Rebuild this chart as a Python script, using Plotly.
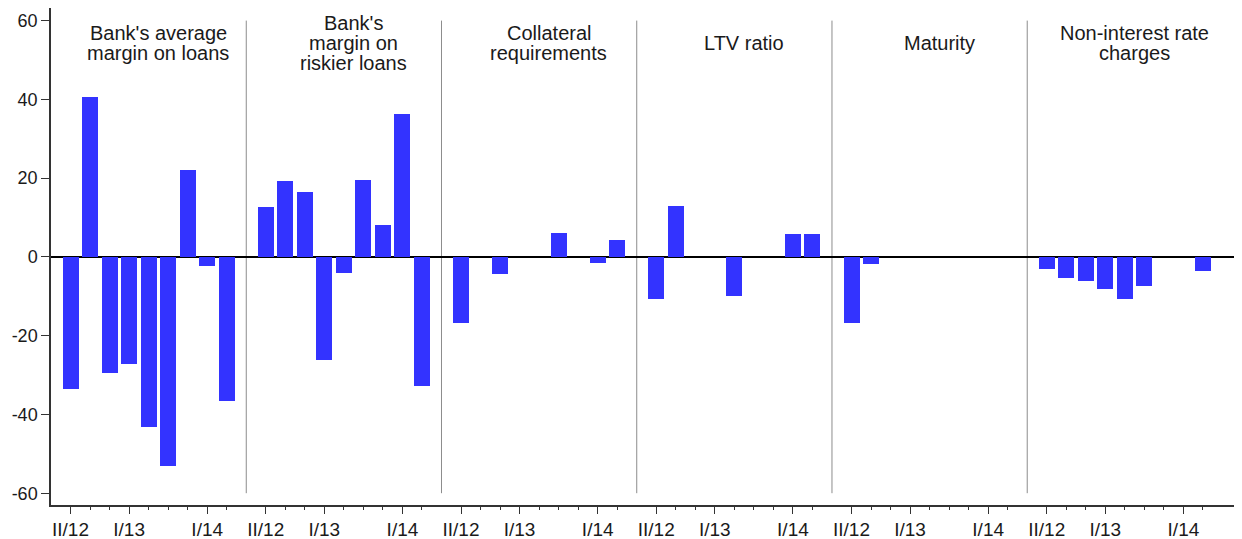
import plotly.graph_objects as go

quarters = ["II/12", "III/12", "IV/12", "I/13", "II/13", "III/13", "IV/13", "I/14", "II/14"]
labelled_quarters = ["II/12", "I/13", "I/14"]

panel_titles = [
    ["Bank's average", "margin on loans"],
    ["Bank's", "margin on", "riskier loans"],
    ["Collateral", "requirements"],
    ["LTV ratio"],
    ["Maturity"],
    ["Non-interest rate", "charges"],
]

avg_margin = [-33.6, 40.6, -29.5, -27.1, -43.3, -53.1, 22.1, -2.2, -36.6]
riskier_margin = [12.7, 19.3, 16.5, -26.3, -4.2, 19.6, 8.0, 36.2, -32.9]
collateral = [-16.9, 0, -4.4, 0, 0, 6.1, 0, -1.5, 4.2]
ltv_ratio = [-10.6, 13.0, 0, 0, -10.0, 0, 0, 5.8, 5.8]
maturity = [-16.9, -1.7, 0, 0, 0, 0, 0, 0, 0]
non_interest = [-3.0, -5.3, -6.2, -8.2, -10.8, -7.4, 0, 0, -3.6]

series = [avg_margin, riskier_margin, collateral, ltv_ratio, maturity, non_interest]

y_ticks = [-60, -40, -20, 0, 20, 40, 60]
y_tick_text = ["-60", "-40", "-20", "0", "20", "40", "60"]

SLOT = len(quarters) + 1  # one empty slot between panels
BAR_COLOR = "#3333ff"
FONT = "Liberation Sans, Arial, sans-serif"
TEXT_COLOR = "#1a1a1a"

fig = go.Figure()

major_vals, major_text, minor_vals = [], [], []
for p, vals in enumerate(series):
    xs = [p * SLOT + i for i in range(len(quarters))]
    fig.add_trace(go.Bar(
        x=xs, y=vals, width=0.82,
        marker=dict(color=BAR_COLOR, line=dict(width=0)),
        showlegend=False,
    ))
    for i, q in enumerate(quarters):
        if q in labelled_quarters:
            major_vals.append(xs[i])
            major_text.append(q)
        else:
            minor_vals.append(xs[i])

# panel separators and titles
LINE_GAP = 20
for p, lines in enumerate(panel_titles):
    if p > 0:
        sep = p * SLOT - 1
        fig.add_shape(type="line", xref="x", yref="y",
                      x0=sep, x1=sep, y0=-60, y1=60,
                      line=dict(color="#8c8c8c", width=1), layer="below")
    n = len(lines)
    for k, line in enumerate(lines):
        fig.add_annotation(
            x=p * SLOT + (len(quarters) - 1) / 2 + 0.5, y=54.4,
            xref="x", yref="y", text=line, showarrow=False,
            xanchor="center", yanchor="middle",
            yshift=-(k - (n - 1) / 2) * LINE_GAP,
            font=dict(family=FONT, size=20, color=TEXT_COLOR),
        )

# the page body has an 8px default margin, so the figure is sized to fit
fig.update_layout(
    width=1234, height=531,
    margin=dict(l=43, r=0, t=0, b=34),
    plot_bgcolor="white", paper_bgcolor="white",
    bargap=0,
    font=dict(family=FONT, size=19, color=TEXT_COLOR),
)

fig.update_xaxes(
    range=[-1, len(series) * SLOT],
    automargin=False,
    tickmode="array", tickvals=major_vals, ticktext=major_text,
    ticks="outside", ticklen=7, tickwidth=1, tickcolor="#333333",
    showline=True, linecolor="#333333", linewidth=1.5,
    showgrid=False, zeroline=False,
    ticklabelstandoff=-1,
    tickfont=dict(family=FONT, size=19, color=TEXT_COLOR),
    minor=dict(tickmode="array", tickvals=minor_vals, ticks="outside",
               ticklen=3.5, tickwidth=1, tickcolor="#333333", showgrid=False),
)

fig.update_yaxes(
    range=[-63, 63.2],
    automargin=False,
    tickmode="array", tickvals=y_ticks, ticktext=y_tick_text,
    ticks="outside", ticklen=8, tickwidth=1, tickcolor="#333333",
    showline=True, linecolor="#333333", linewidth=1.5,
    showgrid=False,
    zeroline=True, zerolinecolor="black", zerolinewidth=2,
    tickfont=dict(family=FONT, size=18, color=TEXT_COLOR),
)

fig.write_html("out.html")
